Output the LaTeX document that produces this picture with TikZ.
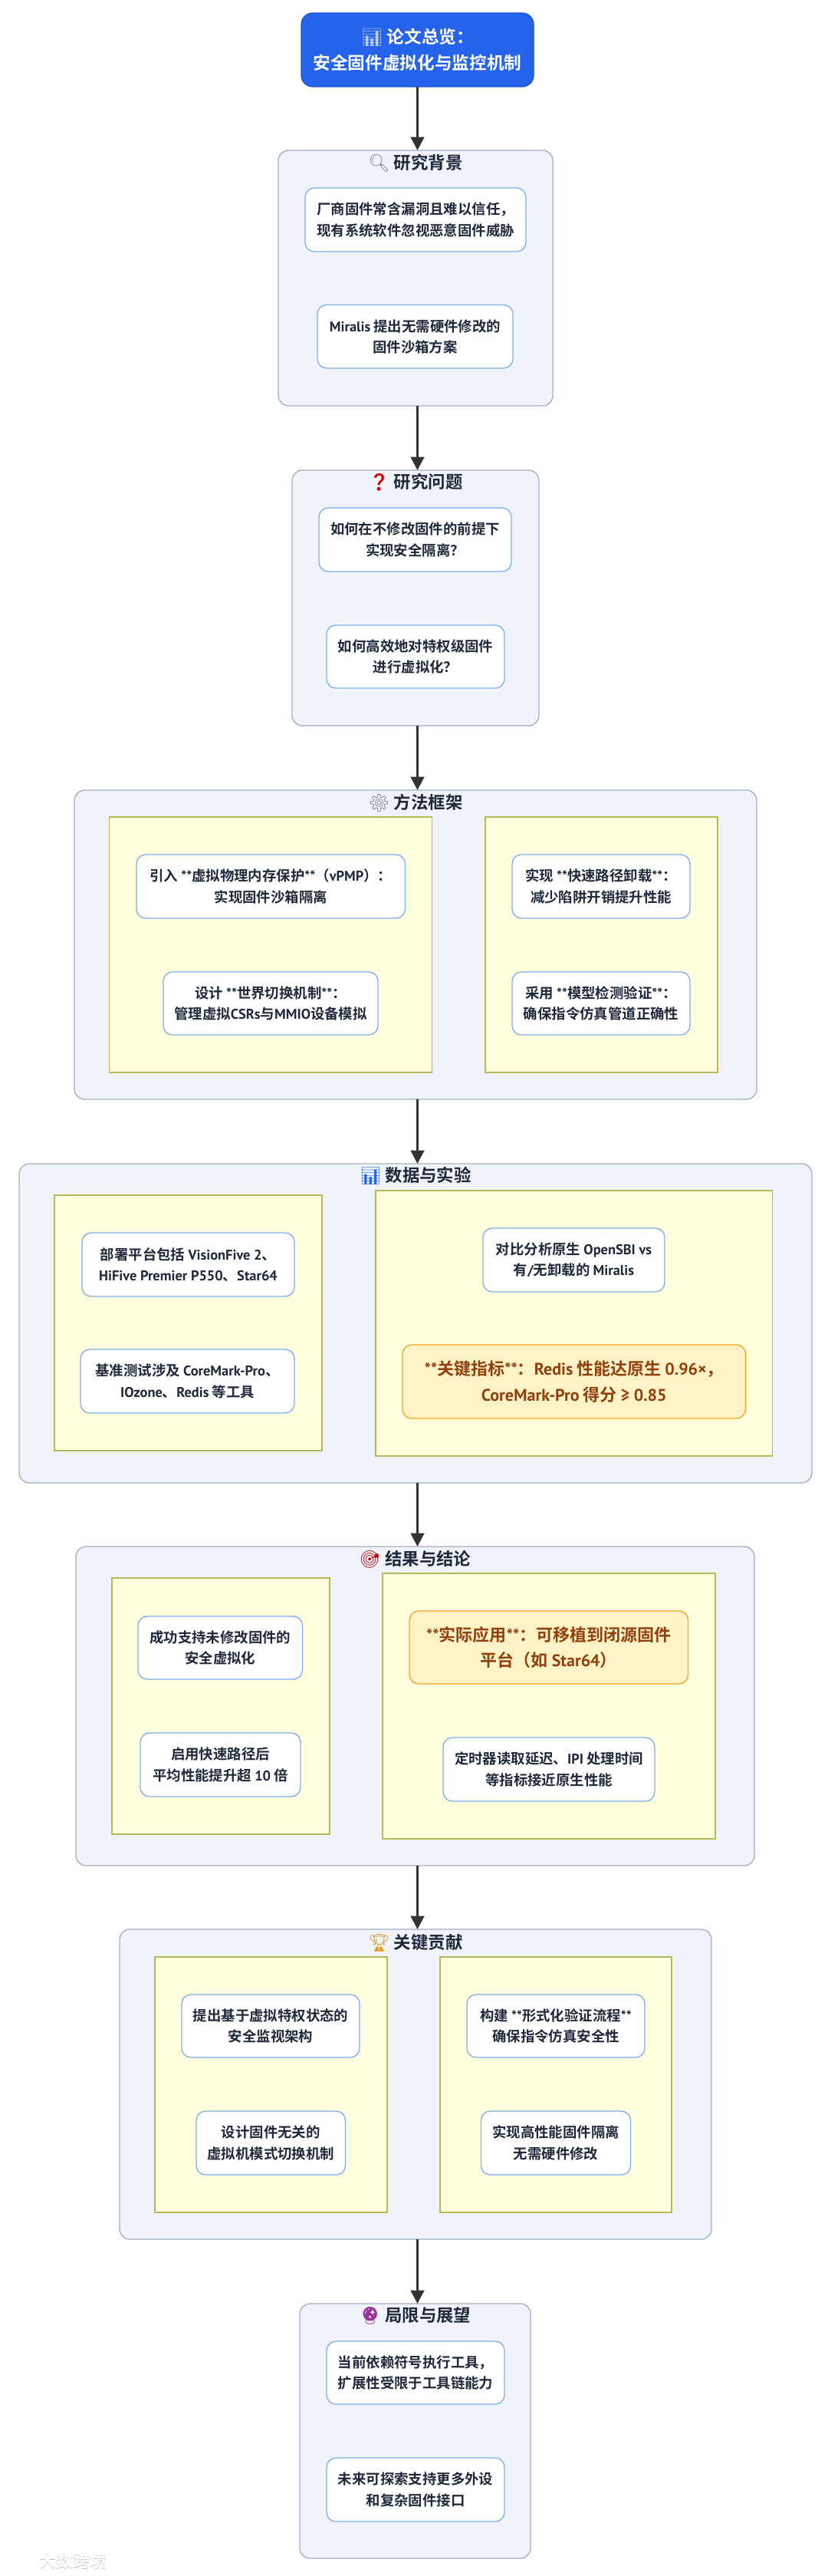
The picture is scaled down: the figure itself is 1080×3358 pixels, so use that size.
\documentclass[tikz,border=0pt]{standalone}
\usepackage{fontspec}
\usetikzlibrary{arrows.meta}
\setmainfont{Noto Sans CJK SC Bold}
\newfontfamily\cjkfont{Noto Sans CJK SC Bold}
\newfontfamily\lat{PT Sans Bold}
\newfontfamily\emo{Noto Emoji}
\newcommand{\la}[1]{{\lat #1}}
\definecolor{ink}{HTML}{1E293B}
\definecolor{topfill}{HTML}{2563EB}
\definecolor{topline}{HTML}{1D4ED8}
\definecolor{grpfill}{HTML}{F0F4FA}
\definecolor{grpline}{HTML}{A3B0C4}
\definecolor{subfill}{HTML}{FFFFDE}
\definecolor{subline}{HTML}{B8B85A}
\definecolor{nodeline}{HTML}{7FB0EA}
\definecolor{orfill}{HTML}{FEF3C7}
\definecolor{orline}{HTML}{F5A623}
\definecolor{ortext}{HTML}{92400E}
\definecolor{arrowc}{HTML}{333333}
\tikzset{
  basebox/.style={inner sep=0pt,outer sep=0pt,align=center},
  topbox/.style={basebox,fill=topfill,draw=topline,line width=.9pt,rounded corners=11pt,text=white,font=\fontsize{17}{25.5}\selectfont},
  grpbox/.style={basebox,fill=grpfill,draw=grpline,line width=1pt,rounded corners=10pt},
  subbox/.style={basebox,fill=subfill,draw=subline,line width=1pt},
  leaf/.style={basebox,fill=white,draw=nodeline,line width=1pt,rounded corners=9pt,text=ink,font=\fontsize{13.8}{20.5}\selectfont},
  keybox/.style={basebox,fill=orfill,draw=orline,line width=1pt,rounded corners=9pt,text=ortext,font=\fontsize{16.5}{25}\selectfont},
  grptitle/.style={inner sep=0pt,text=ink,font=\fontsize{16.8}{20}\selectfont},
  flow/.style={draw=arrowc,line width=2.4pt,-{Triangle[length=13pt,width=13pt]}},
  mark/.style={}
}
\newcommand{\bx}[7]{%
  \pgfmathsetmacro\myx{(#3+#5)/2}\pgfmathsetmacro\myy{(#4+#6)/2}%
  \pgfmathsetmacro\myw{(#5-#3)*0.75}\pgfmathsetmacro\myh{(#6-#4)*0.75}%
  \node[#2,minimum width=\myw pt,minimum height=\myh pt] (#1) at (\myx,\myy) {#7};}
\newcommand{\ttl}[5]{\node[grptitle] (#1) at (#2,#3) {\textcolor{#4}{\makebox[1.25em]{\emo\char"#5}}\hspace{.2em}};}
\begin{document}
\begin{tikzpicture}[x=0.75pt,y=-0.75pt]
\useasboundingbox (0,0) rectangle (1080,3358);
\fill[white] (0,0) rectangle (1080,3358);
\coordinate (ax) at (544.5,0);

\bx{top}{topbox}{393}{17}{696}{113}{\textcolor{topfill!30!white}{\emo\char"1F4CA}\ 论文总览：\\安全固件虚拟化与监控机制}

% 1
\bx{g1}{grpbox}{363}{196}{721}{529}{}
\node[grptitle] (t1) at (542,213) {\textcolor{gray}{\emo\char"1F50D}\ 研究背景};
\bx{a1}{leaf}{398}{245}{686}{328}{厂商固件常含漏洞且难以信任，\\现有系统软件忽视恶意固件威胁}
\bx{a2}{leaf}{414}{397.5}{669}{480}{\la{Miralis} 提出无需硬件修改的\\固件沙箱方案}

% 2
\bx{g2}{grpbox}{381}{613}{703}{946}{}
\node[grptitle] (t2) at (542,629) {\textcolor{red!80!black}{\emo\char"2753}\ 研究问题};
\bx{b1}{leaf}{416}{662}{667}{745}{如何在不修改固件的前提下\\实现安全隔离？}
\bx{b2}{leaf}{426}{815}{658}{897}{如何高效地对特权级固件\\进行虚拟化？}

% 3
\bx{g3}{grpbox}{97}{1030}{987}{1433}{}
\node[grptitle] (t3) at (542,1047) {\textcolor{gray}{\emo\char"2699}\ 方法框架};
\bx{s31}{subbox}{142.5}{1065}{563.5}{1398}{}
\bx{s32}{subbox}{633}{1065}{936}{1398}{}
\bx{c1}{leaf}{178}{1114}{528.5}{1197}{引入 \la{**}虚拟物理内存保护\la{**}（\la{vPMP}）：\\实现固件沙箱隔离}
\bx{c2}{leaf}{213}{1267}{493}{1349}{设计 \la{**}世界切换机制\la{**}：\\管理虚拟\la{CSRs}与\la{MMIO}设备模拟}
\bx{c3}{leaf}{668}{1114}{900}{1197}{实现 \la{**}快速路径卸载\la{**}：\\减少陷阱开销提升性能}
\bx{c4}{leaf}{668}{1267}{900}{1349}{采用 \la{**}模型检测验证\la{**}：\\确保指令仿真管道正确性}

% 4
\bx{g4}{grpbox}{25}{1517}{1059}{1933}{}
\node[grptitle] (t4) at (542,1533) {\textcolor{topfill}{\emo\char"1F4CA}\ 数据与实验};
\bx{s41}{subbox}{71}{1558}{420}{1891}{}
\bx{s42}{subbox}{490}{1552}{1007.5}{1898}{}
\bx{d1}{leaf}{107}{1607}{384}{1690}{部署平台包括 \la{VisionFive 2}、\\\la{HiFive Premier P550}、\la{Star64}}
\bx{d2}{leaf}{105}{1759}{384}{1842}{基准测试涉及 \la{CoreMark-Pro}、\\\la{IOzone}、\la{Redis} 等工具}
\bx{d3}{leaf}{630}{1601}{867}{1684}{对比分析原生 \la{OpenSBI vs}\\有\la{/}无卸载的 \la{Miralis}}
\bx{d4}{keybox}{525}{1753}{972.5}{1849}{\la{**}关键指标\la{**}：\la{Redis} 性能达原生 \la{0.96×}，\\\la{CoreMark-Pro} 得分 \la{≥ 0.85}}

% 5
\bx{g5}{grpbox}{99}{2016}{984}{2432}{}
\node[grptitle] (t5) at (541.5,2033) {\textcolor{red!75!black}{\emo\char"1F3AF}\ 结果与结论};
\bx{s51}{subbox}{146}{2057}{430}{2391}{}
\bx{s52}{subbox}{499}{2051}{933}{2397}{}
\bx{e1}{leaf}{180}{2107}{394.5}{2189}{成功支持未修改固件的\\安全虚拟化}
\bx{e2}{leaf}{183}{2259}{392}{2342}{启用快速路径后\\平均性能提升超 \la{10} 倍}
\bx{e3}{keybox}{534}{2100}{897.5}{2195}{\la{**}实际应用\la{**}：可移植到闭源固件\\平台（如 \la{Star64}）}
\bx{e4}{leaf}{578}{2265}{854}{2348}{定时器读取延迟、\la{IPI} 处理时间\\等指标接近原生性能}

% 6
\bx{g6}{grpbox}{156}{2515}{928}{2919}{}
\node[grptitle] (t6) at (542,2533) {\textcolor{orline!90!black}{\emo\char"1F3C6}\ 关键贡献};
\bx{s61}{subbox}{202}{2551}{505}{2884}{}
\bx{s62}{subbox}{574}{2551}{876}{2884}{}
\bx{f1}{leaf}{237}{2600}{469}{2682}{提出基于虚拟特权状态的\\安全监视架构}
\bx{f2}{leaf}{256}{2752}{450.5}{2835}{设计固件无关的\\虚拟机模式切换机制}
\bx{f3}{leaf}{609}{2600}{841}{2682}{构建 \la{**}形式化验证流程\la{**}\\确保指令仿真安全性}
\bx{f4}{leaf}{627.5}{2752}{822.5}{2835}{实现高性能固件隔离\\无需硬件修改}

% 7
\bx{g7}{grpbox}{391}{3003}{692}{3335}{}
\node[grptitle] (t7) at (541.5,3019) {\textcolor{violet!80!white}{\emo\char"1F52E}\ 局限与展望};
\bx{h1}{leaf}{426}{3052}{658}{3134}{当前依赖符号执行工具，\\扩展性受限于工具链能力}
\bx{h2}{leaf}{426}{3204}{658}{3287}{未来可探索支持更多外设\\和复杂固件接口}

\draw[flow] (ax |- top.south) -- (ax |- g1.north);
\draw[flow] (ax |- g1.south) -- (ax |- g2.north);
\draw[flow] (ax |- g2.south) -- (ax |- g3.north);
\draw[flow] (ax |- g3.south) -- (ax |- g4.north);
\draw[flow] (ax |- g4.south) -- (ax |- g5.north);
\draw[flow] (ax |- g5.south) -- (ax |- g6.north);
\draw[flow] (ax |- g6.south) -- (ax |- g7.north);

\node[inner sep=0pt,text=black!25,font=\fontsize{16.5}{20}\selectfont] (wm0) at (95.8,3338.8) {大数跨境};
\node[inner sep=0pt,text=white,font=\fontsize{16.5}{20}\selectfont] (wm) at (95,3338) {大数跨境};
\end{tikzpicture}
\end{document}
